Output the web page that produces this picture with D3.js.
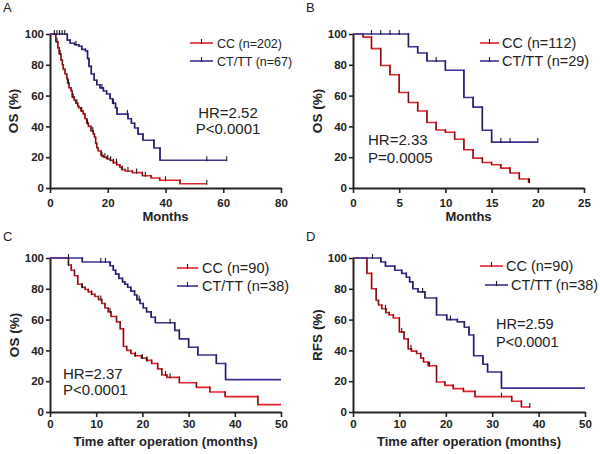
<!DOCTYPE html>
<html><head><meta charset="utf-8">
<script src="https://cdn.jsdelivr.net/npm/d3@7"></script>
<style>body{margin:0;background:#fff}svg{display:block}</style>
</head><body>
<svg id="c" width="600" height="454"></svg>
<script>
// ---------------- DATA ----------------
const panelLetters = ["A", "B", "C", "D"];
const yTicks = [0, 20, 40, 60, 80, 100];
const xTicksA = [0, 20, 40, 60, 80];
const xTicksB = [0, 5, 10, 15, 20, 25];
const xTicksCD = [0, 10, 20, 30, 40, 50];
const yTitles = ["OS (%)", "OS (%)", "OS (%)", "RFS (%)"];
const xTitles = ["Months", "Months", "Time after operation (months)", "Time after operation (months)"];
const legendA = ["CC (n=202)", "CT/TT (n=67)"];
const legendB = ["CC (n=112)", "CT/TT (n=29)"];
const legendC = ["CC (n=90)", "CT/TT (n=38)"];
const legendD = ["CC (n=90)", "CT/TT (n=38)"];
const statsA = ["HR=2.52", "P<0.0001"];
const statsB = ["HR=2.33", "P=0.0005"];
const statsC = ["HR=2.37", "P<0.0001"];
const statsD = ["HR=2.59", "P<0.0001"];

// step points [time, survival %]
const A_cc = [[0,100],[2,95],[2.7,91],[3.2,87],[3.8,83],[4.3,80],[4.6,77],[5.2,74],[5.8,71],[6.1,68],[6.6,65],[7.3,63],[7.7,59],[8.4,57],[8.9,55],[9.6,53],[10,52],[10.7,50],[11.5,48],[12.1,45],[12.7,42],[13.3,40],[14.2,37],[15,35],[15.4,33],[15.8,29],[16.2,26],[16.7,24],[17.7,21],[18.5,20],[19.6,19],[20.8,18],[21.9,16.5],[23.1,15],[24.2,13.5],[24.8,12],[26,11],[28.5,10],[32,8],[35,6.5],[38,5],[45,2.8]];
const A_cc_end = 54.3;
const A_cc_cens = [2.4, 3.5, 6.4, 8, 9.3, 11, 13, 14.8, 18, 19, 20, 21, 22, 23, 25, 27, 30, 33, 40, 54.3];
const A_ct = [[0,100],[6,96],[7,94],[8.5,93],[10,92],[11,90],[12.3,89],[13,84],[13.5,79],[14.3,74],[15.3,70],[16.2,67],[17.3,65],[18.5,63],[19.6,61],[20.8,58],[21.7,55],[22.7,52],[23.2,48],[27,45],[28.2,42],[29.3,39],[30.5,35],[32.2,31],[36,26],[38.1,18]];
const A_ct_end = 61.2;
const A_ct_cens = [1.5, 2.4, 3.3, 4.2, 5.1, 9, 18, 22, 26.8, 54.3, 61.2];

const B_cc = [[0,100],[1.1,98],[2,90.5],[3,79.5],[4,73.5],[5,62],[6,55.5],[7,50],[8,42.5],[9,37.7],[10,36.2],[11,31.7],[12,24.8],[13,19.4],[14,16.6],[15,15.1],[16,12.9],[17,9.7],[18,5.8],[19,3.7]];
const B_cc_end = 19.1;
const B_cc_cens = [19.1];
const B_ct = [[0,100],[6,91.7],[7,87.7],[8,82.5],[10,76.5],[12,58.8],[13,52.5],[14,37.5],[15,29.8]];
const B_ct_end = 20;
const B_ct_cens = [2, 3, 4, 5, 9, 16, 17, 20];

const C_cc = [[0,100],[4,95.5],[4.6,92],[5.3,88.5],[6,83],[6.9,81],[7.6,79.5],[8.3,78],[9,76.5],[9.7,75],[10.5,73],[11.2,70.5],[11.9,67.5],[12.6,65],[13.2,62],[14.4,58.5],[15.2,54],[15.9,42.5],[16.6,40],[17.5,38],[18.4,36.5],[19.8,35],[20.9,33.5],[22,31.5],[23.3,28],[24.2,24],[25.3,22.5],[28,19],[31.7,16],[34.6,13],[37.9,10],[45,4.8]];
const C_cc_end = 50;
const C_cc_cens = [4, 7, 9, 11, 13, 18.5, 20, 21, 25, 26];
const C_ct = [[0,100],[7,97.4],[13,95],[13.7,92],[14.2,89.5],[14.9,86.8],[15.7,84.5],[16.2,83],[16.8,81],[17.5,78.5],[18.3,76],[18.8,73],[19.5,70.5],[20.2,67.5],[20.9,65],[21.9,61.5],[22.8,58],[27,53],[28,47.5],[30,42],[32,37],[36,31.5],[38,21]];
const C_ct_end = 50;
const C_ct_cens = [4, 11, 12, 19.3, 26];

const D_cc = [[0,100],[3,90],[4,80],[5,72.5],[5.5,69.5],[6.2,67],[7.1,64.5],[7.8,63],[8.7,61],[10,52],[11,47.5],[11.9,41],[12.6,39.5],[13.7,38],[14.6,35],[15.2,32.5],[16.2,30],[18,19.5],[19.8,17.3],[21.6,15.2],[23.8,13.4],[26.3,10],[34.2,7],[36.3,3.2]];
const D_cc_end = 38.1;
const D_cc_cens = [7, 10.5, 12.5, 16.5, 32, 38.1];
const D_ct = [[0,100],[6,97.4],[7,94.7],[9,92],[10.5,90],[11.5,87.5],[12.2,84.5],[12.9,80],[14,78],[15.5,74],[18,63],[20.2,60],[22.5,58.5],[24,55],[25,50],[26,36.5],[28,31],[29,26],[32,15.5]];
const D_ct_end = 50;
const D_ct_cens = [4.2, 15, 21];

// ---------------- LAYOUT ----------------
const RED = "#e3232b", RED_DARK = "#6e1418";
const BLUE = "#3d3192", BLUE_DARK = "#221c55";
const TICK = "#1a1a1a";
const INK = "#222";

const panels = [
  {letter: panelLetters[0], lx: 3, ly: 12, xr: [50, 281], yr: [188, 34], xd: [0, 80], xt: xTicksA,
   cc: [A_cc, A_cc_end, A_cc_cens], ct: [A_ct, A_ct_end, A_ct_cens], yTitle: yTitles[0], xTitle: xTitles[0],
   yTitleX: 18, xTitleY: 221, xtPad: 6,
   leg: legendA, legX: [190, 213, 217], legY: [43, 61], legFont: 12.5, legShift: 0,
   stats: statsA, statX: 228, statY: [118, 133.5], statAnchor: "middle", statFont: 15},
  {letter: panelLetters[1], lx: 306, ly: 12, xr: [353, 584], yr: [188, 34], xd: [0, 25], xt: xTicksB,
   cc: [B_cc, B_cc_end, B_cc_cens], ct: [B_ct, B_ct_end, B_ct_cens], yTitle: yTitles[1], xTitle: xTitles[1],
   yTitleX: 322, xTitleY: 221, xtPad: 6,
   leg: legendB, legX: [480, 499, 502], legY: [43, 61], legFont: 14.5, legShift: 0,
   stats: statsB, statX: 368, statY: [145, 163], statAnchor: "start", statFont: 15},
  {letter: panelLetters[2], lx: 3, ly: 241, xr: [50, 281], yr: [412, 258], xd: [0, 50], xt: xTicksCD,
   cc: [C_cc, C_cc_end, C_cc_cens], ct: [C_ct, C_ct_end, C_ct_cens], yTitle: yTitles[2], xTitle: xTitles[2],
   yTitleX: 19, xTitleY: 446, xtPad: 3,
   leg: legendC, legX: [177, 198, 202], legY: [268, 286], legFont: 14.5, legShift: 0,
   stats: statsC, statX: 63, statY: [379, 395], statAnchor: "start", statFont: 15},
  {letter: panelLetters[3], lx: 306, ly: 241, xr: [353, 585], yr: [412, 258], xd: [0, 50], xt: xTicksCD,
   cc: [D_cc, D_cc_end, D_cc_cens], ct: [D_ct, D_ct_end, D_ct_cens], yTitle: yTitles[3], xTitle: xTitles[3],
   yTitleX: 322, xTitleY: 446, xtPad: 3,
   leg: legendD, legX: [480, 503, 506], legY: [266, 285], legFont: 14.5, legShift: 5,
   stats: statsD, statX: 496, statY: [329, 347], statAnchor: "start", statFont: 14.5}
];

const svg = d3.select("#c");
const FONT = "Liberation Sans, Arial, Helvetica, sans-serif";

function valueAt(pts, t) {
  let v = pts[0][1];
  for (const p of pts) { if (p[0] <= t + 1e-9) v = p[1]; }
  return v;
}

function drawSeries(g, x, y, series, color, dark) {
  const [pts, end, cens] = series;
  const data = pts.concat([[end, pts[pts.length - 1][1]]]);
  const line = d3.line().x(d => x(d[0])).y(d => y(d[1])).curve(d3.curveStepAfter);
  g.append("path").attr("d", line(data)).attr("fill", "none")
    .attr("stroke", color).attr("stroke-width", 1.6);
  for (let i = 1; i < pts.length; i++) {
    g.append("line")
      .attr("x1", x(pts[i][0])).attr("x2", x(pts[i][0]))
      .attr("y1", y(pts[i - 1][1]) - 0.8).attr("y2", y(pts[i][1]))
      .attr("stroke", dark).attr("stroke-width", 1.2);
  }
  cens.forEach(t => {
    const v = valueAt(pts, t);
    g.append("line").attr("x1", x(t)).attr("x2", x(t))
      .attr("y1", y(v) - 4).attr("y2", y(v) + 1)
      .attr("stroke", TICK).attr("stroke-width", 1.1);
  });
}

panels.forEach(p => {
  const g = svg.append("g");
  const x = d3.scaleLinear().domain(p.xd).range(p.xr);
  const y = d3.scaleLinear().domain([0, 100]).range(p.yr);

  g.append("text").attr("x", p.lx).attr("y", p.ly).text(p.letter)
    .attr("font-family", FONT).attr("font-size", 13).attr("fill", INK);

  // axes
  const ya = g.append("g").attr("transform", `translate(${p.xr[0]},0)`)
    .call(d3.axisLeft(y).tickValues(yTicks).tickSize(4).tickPadding(2).tickSizeOuter(0));
  const xa = g.append("g").attr("transform", `translate(0,${p.yr[0]})`)
    .call(d3.axisBottom(x).tickValues(p.xt).tickSize(5).tickPadding(p.xtPad).tickSizeOuter(0));
  [ya, xa].forEach(a => {
    a.select(".domain").attr("stroke", INK).attr("stroke-width", 2);
    a.selectAll(".tick line").attr("stroke", INK).attr("stroke-width", 1.6);
    a.selectAll(".tick text").attr("font-family", FONT).attr("font-size", 11.5)
      .attr("font-weight", "bold").attr("fill", INK);
  });

  // titles
  const yc = (p.yr[0] + p.yr[1]) / 2;
  g.append("text").attr("transform", `translate(${p.yTitleX},${yc}) rotate(-90)`)
    .attr("text-anchor", "middle").text(p.yTitle)
    .attr("font-family", FONT).attr("font-size", 13.5).attr("font-weight", "bold").attr("fill", INK);
  g.append("text").attr("x", (p.xr[0] + p.xr[1]) / 2).attr("y", p.xTitleY)
    .attr("text-anchor", "middle").text(p.xTitle)
    .attr("font-family", FONT).attr("font-size", 13).attr("font-weight", "bold").attr("fill", INK);

  // curves
  drawSeries(g, x, y, p.cc, RED, RED_DARK);
  drawSeries(g, x, y, p.ct, BLUE, BLUE_DARK);

  // legend
  [[RED, TICK], [BLUE, TICK]].forEach((c, i) => {
    const sh = i === 1 ? p.legShift : 0;
    const ly = p.legY[i];
    const x1 = p.legX[0] + sh, x2 = p.legX[1] + sh;
    g.append("line").attr("x1", x1).attr("x2", x2).attr("y1", ly).attr("y2", ly)
      .attr("stroke", c[0]).attr("stroke-width", 1.6);
    g.append("line").attr("x1", (x1 + x2) / 2).attr("x2", (x1 + x2) / 2)
      .attr("y1", ly - 4).attr("y2", ly + 1).attr("stroke", c[1]).attr("stroke-width", 1.1);
    g.append("text").attr("x", p.legX[2] + sh).attr("y", ly + p.legFont * 0.36).text(p.leg[i])
      .attr("font-family", FONT).attr("font-size", p.legFont).attr("fill", INK);
  });

  // stats
  p.stats.forEach((s, i) => {
    g.append("text").attr("x", p.statX).attr("y", p.statY[i]).text(s)
      .attr("text-anchor", p.statAnchor)
      .attr("font-family", FONT).attr("font-size", p.statFont).attr("fill", INK);
  });
});
</script>
</body></html>
